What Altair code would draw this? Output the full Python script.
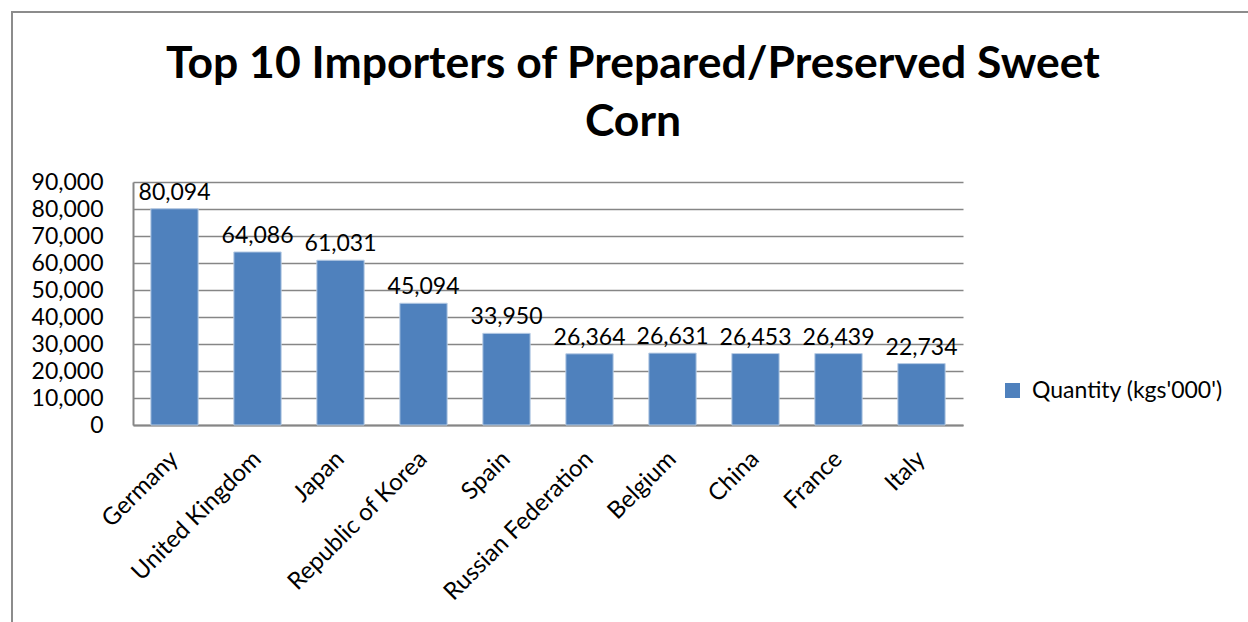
import altair as alt
import pandas as pd

countries = ["Germany", "United Kingdom", "Japan", "Republic of Korea", "Spain",
             "Russian Federation", "Belgium", "China", "France", "Italy"]
quantities = [80094, 64086, 61031, 45094, 33950, 26364, 26631, 26453, 26439, 22734]
series_name = "Quantity (kgs'000')"
y_ticks = [0, 10000, 20000, 30000, 40000, 50000, 60000, 70000, 80000, 90000]
title_line1 = "Top 10 Importers of Prepared/Preserved Sweet"
title_line2 = "Corn"

df = pd.DataFrame({"country": countries, "qty": quantities, "series": [series_name] * len(countries)})

FONT = "Lato"
BLUE = "#4F81BD"
GRID = "#868686"

x_enc = alt.X("country:N", sort=countries,
              scale=alt.Scale(paddingInner=0.43, paddingOuter=0.215),
              axis=alt.Axis(title=None, labelAngle=-45, labelAlign="right", labelBaseline="middle",
                            labelPadding=30, ticks=False, domainColor=GRID, domainWidth=2,
                            labelFont=FONT, labelFontSize=24, labelColor="#000000", grid=False,
                            labelLimit=400, labelOverlap=False))
y_enc = alt.Y("qty:Q", scale=alt.Scale(domain=[0, 90000], nice=False),
              axis=alt.Axis(title=None, values=y_ticks, format=",.0f", ticks=False, labelPadding=30,
                            domainColor=GRID, domainWidth=2, grid=True, gridColor=GRID, gridWidth=1.5,
                            labelFont=FONT, labelFontSize=23, labelColor="#000000",
                            labelOverlap=False, labelFlush=False))

base = alt.Chart(df).encode(x=x_enc, y=y_enc)

bars = base.mark_bar(stroke="#B9CDE5", strokeWidth=1).encode(
    color=alt.Color("series:N", scale=alt.Scale(range=[BLUE]),
                    legend=alt.Legend(title=None, orient="none", legendX=868, legendY=197,
                                      symbolType="square", symbolSize=225, symbolStrokeWidth=0,
                                      labelFont=FONT, labelFontSize=23, labelColor="#000000",
                                      labelOffset=8, labelLimit=400)),
)

labels = base.mark_text(font=FONT, fontSize=23, color="#000000", baseline="bottom", dy=-4).encode(
    text=alt.Text("qty:Q", format=","),
)

one = pd.DataFrame({"k": [0]})
frame = alt.Chart(one).mark_rect(fill=None, stroke="#8C8C8C", strokeWidth=2).encode(
    x=alt.value(-121), x2=alt.value(1200), y=alt.value(-170), y2=alt.value(600),
)
title1 = alt.Chart(one).mark_text(font=FONT, fontSize=44.5, fontWeight="bold", color="#000000",
                                  align="center", baseline="alphabetic").encode(
    x=alt.value(500), y=alt.value(-104), text=alt.value(title_line1))
title2 = alt.Chart(one).mark_text(font=FONT, fontSize=44.5, fontWeight="bold", color="#000000",
                                  align="center", baseline="alphabetic").encode(
    x=alt.value(500), y=alt.value(-46), text=alt.value(title_line2))

chart = alt.layer(frame, bars, labels, title1, title2).properties(
    width=830, height=243,
    autosize=alt.AutoSizeParams(type="none"),
    padding={"left": 133, "top": 182, "right": 285, "bottom": 197},
).configure(
    background="white",
    view=alt.ViewConfig(stroke="transparent", strokeWidth=0),
    style={"cell": {"stroke": "transparent", "strokeWidth": 0}},
    axisX=alt.AxisConfig(grid=False),
)

chart.save("out.html", embed_options={"renderer": "svg", "actions": False})
